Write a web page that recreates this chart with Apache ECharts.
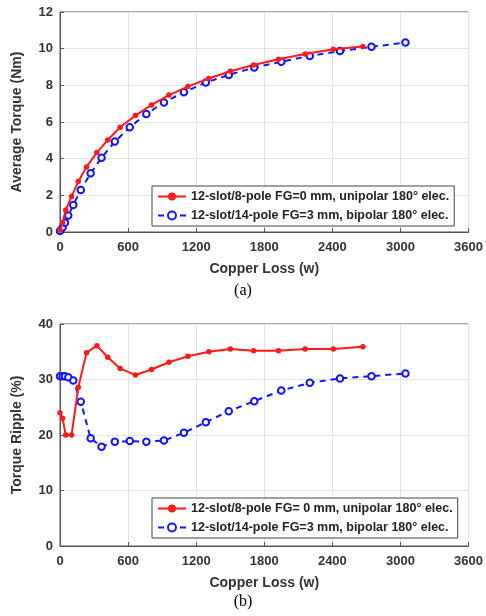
<!DOCTYPE html>
<html>
<head>
<meta charset="utf-8">
<script src="https://cdn.jsdelivr.net/npm/echarts@6/dist/echarts.min.js"></script>
<style>html,body{margin:0;padding:0;background:#fff}#c{width:486px;height:616px}</style>
</head>
<body>
<div id="c"></div>
<script>
// Data
var xTicks = [0, 600, 1200, 1800, 2400, 3000, 3600];
var redLoss = [0, 23, 50, 102, 161, 234, 325, 421, 530, 664, 807, 960, 1127, 1311, 1501, 1706, 1926, 2160, 2409, 2669];
var redTorque = [0.1, 0.5, 1.2, 1.93, 2.75, 3.55, 4.33, 5.02, 5.71, 6.35, 6.93, 7.47, 7.93, 8.37, 8.77, 9.11, 9.42, 9.71, 9.97, 10.12];
var redRipple = [24, 23, 20, 20, 28.6, 34.8, 36.1, 34, 32, 30.8, 31.8, 33.1, 34.2, 35.0, 35.5, 35.2, 35.2, 35.5, 35.5, 35.9];
var blueLoss = [0, 23, 44, 73, 117, 183, 270, 366, 483, 615, 761, 916, 1092, 1285, 1487, 1712, 1950, 2201, 2467, 2745, 3044];
var blueTorque = [0.05, 0.25, 0.5, 0.9, 1.47, 2.29, 3.2, 4.05, 4.93, 5.71, 6.44, 7.07, 7.62, 8.15, 8.57, 8.97, 9.29, 9.6, 9.87, 10.1, 10.33];
var blueRipple = [30.6, 30.6, 30.6, 30.4, 29.8, 26.0, 19.4, 17.9, 18.8, 18.9, 18.8, 19.0, 20.4, 22.3, 24.3, 26.1, 28.0, 29.4, 30.2, 30.6, 31.1];
var redNameA = '12-slot/8-pole FG=0 mm, unipolar 180° elec.';
var blueNameA = '12-slot/14-pole FG=3 mm, bipolar 180° elec.';
var redNameB = '12-slot/8-pole FG= 0 mm, unipolar 180° elec.';
var blueNameB = '12-slot/14-pole FG=3 mm, bipolar 180° elec.';

function zip(a, b) { return a.map(function (v, i) { return [v, b[i]]; }); }

var font = 'Liberation Sans, Arial, sans-serif';
var RED = '#ff1a1a', BLUE = '#1414ff';

function xAxis(gi) {
  return {
    gridIndex: gi, type: 'value', min: xTicks[0], max: xTicks[xTicks.length - 1], interval: xTicks[1] - xTicks[0],
    name: 'Copper Loss (w)', nameLocation: 'middle', nameGap: 30,
    nameTextStyle: { fontFamily: font, fontWeight: 'bold', fontSize: 14, color: '#333' },
    axisLine: { show: true, lineStyle: { color: '#555' } },
    axisTick: { show: true, inside: true, length: 4, lineStyle: { color: '#555' } },
    axisLabel: { fontFamily: font, fontWeight: 'bold', fontSize: 13, color: '#333', margin: 9,
      formatter: function (v) { return String(v); } },
    splitLine: { show: true, lineStyle: { color: '#e3e3e3' } }
  };
}
function yAxis(gi, max, interval, name) {
  return {
    gridIndex: gi, type: 'value', min: 0, max: max, interval: interval,
    name: name, nameLocation: 'middle', nameGap: 36, nameRotate: 90,
    nameTextStyle: { fontFamily: font, fontWeight: 'bold', fontSize: 14, color: '#333' },
    axisLine: { show: true, lineStyle: { color: '#555' } },
    axisTick: { show: true, inside: true, length: 4, lineStyle: { color: '#555' } },
    axisLabel: { fontFamily: font, fontWeight: 'bold', fontSize: 13, color: '#333', margin: 7 },
    splitLine: { show: true, lineStyle: { color: '#e3e3e3' } }
  };
}
function redSeries(name, xi, data) {
  return {
    name: name, type: 'line', xAxisIndex: xi, yAxisIndex: xi, data: data,
    symbol: 'circle', symbolSize: 5.5, showAllSymbol: true,
    lineStyle: { color: RED, width: 2 }, itemStyle: { color: RED }, z: 3
  };
}
function blueSeries(name, xi, data) {
  return {
    name: name, type: 'line', xAxisIndex: xi, yAxisIndex: xi, data: data,
    symbol: 'emptyCircle', symbolSize: 6.5, showAllSymbol: true,
    lineStyle: { color: BLUE, width: 2, type: [6, 5] },
    itemStyle: { color: BLUE, borderColor: BLUE, borderWidth: 1.8 }, z: 2
  };
}
function legend(top, names) {
  return {
    orient: 'vertical', left: 152, top: top, padding: [4, 5, 4, 5], itemGap: 6,
    itemWidth: 28, itemHeight: 10,
    backgroundColor: '#fff', borderColor: '#444', borderWidth: 1,
    data: names,
    textStyle: { fontFamily: font, fontWeight: 'bold', fontSize: 12.5, color: '#222' }
  };
}

var chart = echarts.init(document.getElementById('c'), null, { renderer: 'canvas' });
chart.setOption({
  animation: false,
  backgroundColor: '#fff',
  grid: [
    { left: 60, top: 12, width: 410, height: 220, show: true, borderColor: '#555', borderWidth: 1 },
    { left: 60, top: 324, width: 410, height: 222, show: true, borderColor: '#555', borderWidth: 1 }
  ],
  title: [
    { text: '(a)', left: 'center', top: 283, padding: 0,
      textStyle: { fontFamily: 'Liberation Serif, Times New Roman, serif', fontWeight: 'normal', fontSize: 16, color: '#000' } },
    { text: '(b)', left: 'center', top: 594, padding: 0,
      textStyle: { fontFamily: 'Liberation Serif, Times New Roman, serif', fontWeight: 'normal', fontSize: 16, color: '#000' } }
  ],
  legend: [ legend(186, [redNameA, blueNameA]), legend(498, [redNameB, blueNameB]) ],
  xAxis: [ xAxis(0), xAxis(1) ],
  yAxis: [ yAxis(0, 12, 2, 'Average Torque (Nm)'), yAxis(1, 40, 10, 'Torque Ripple (%)') ],
  series: [
    redSeries(redNameA, 0, zip(redLoss, redTorque)),
    blueSeries(blueNameA, 0, zip(blueLoss, blueTorque)),
    redSeries(redNameB, 1, zip(redLoss, redRipple)),
    blueSeries(blueNameB, 1, zip(blueLoss, blueRipple))
  ]
});
</script>
</body>
</html>
